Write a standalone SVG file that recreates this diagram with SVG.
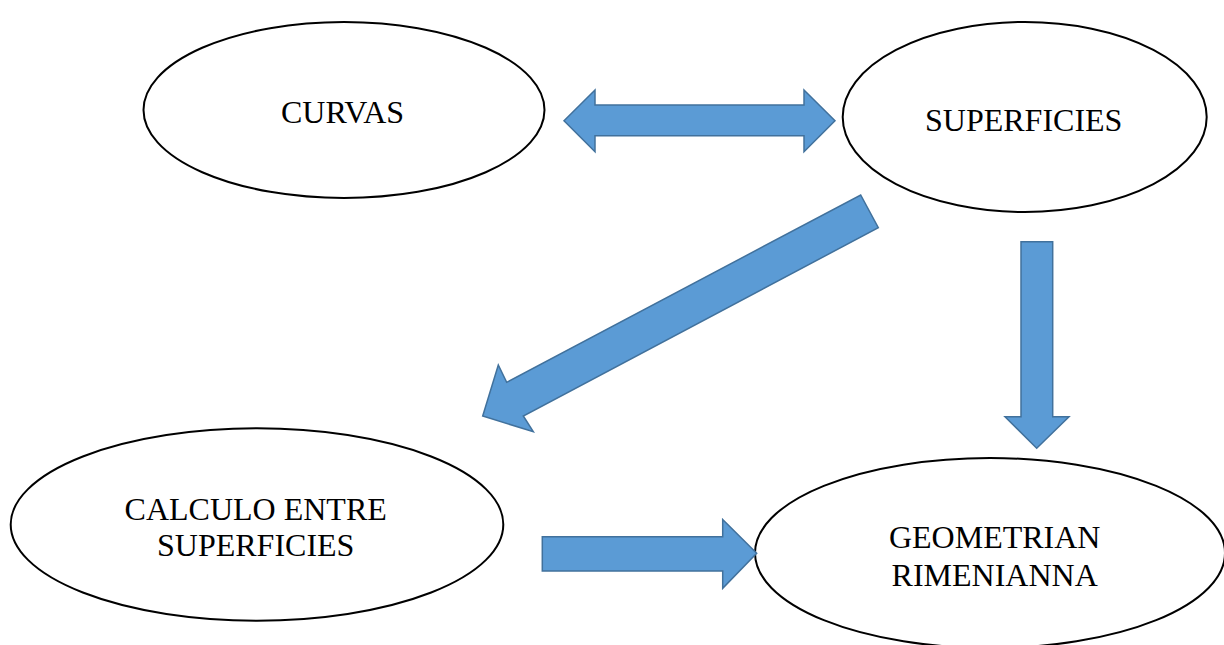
<svg xmlns="http://www.w3.org/2000/svg" width="1224" height="645" viewBox="0 0 1224 645">
<style>
.node{fill:#fff;stroke:#000;stroke-width:2}
.lbl{font-family:"Liberation Serif","Times New Roman",serif;font-size:32px;fill:#000;text-anchor:middle}
.arr{fill:#5B9BD5;stroke:#41719C;stroke-width:1.5;stroke-linejoin:miter}
</style>
<rect width="1224" height="645" fill="#fff"/>
<g id="curvas">
<ellipse class="node" cx="344" cy="110" rx="200.5" ry="88"/>
<text class="lbl" x="342.5" y="123">CURVAS</text>
</g>
<g id="superficies">
<ellipse class="node" cx="1024.7" cy="117" rx="182" ry="95"/>
<text class="lbl" x="1023.7" y="131">SUPERFICIES</text>
</g>
<g id="calculo">
<ellipse class="node" cx="257" cy="524.5" rx="246.3" ry="96.2"/>
<text class="lbl" x="255.7" y="520">CALCULO ENTRE</text>
<text class="lbl" x="255.7" y="556">SUPERFICIES</text>
</g>
<g id="geometrian">
<ellipse class="node" cx="990" cy="553" rx="235" ry="95"/>
<text class="lbl" x="994.7" y="548">GEOMETRIAN</text>
<text class="lbl" x="994.7" y="586">RIMENIANNA</text>
</g>
<g id="connectors">
<polygon class="arr" points="564,120.7 595,90 595,105 804,105 804,90 835,120.7 804,151.7 804,135.7 595,135.7 595,151.7"/>
<polygon class="arr" points="860.7,195 878.3,227.7 523.3,416 533.3,431.7 482.7,416 498.3,365 506.7,382.3"/>
<polygon class="arr" points="1021,241.7 1052.7,241.7 1052.7,416.7 1069,416.7 1036.7,448.3 1005,416.7 1021,416.7"/>
<polygon class="arr" points="542.3,536.7 722.7,536.7 722.7,519.5 756.7,553.3 722.7,588.3 722.7,571 542.3,571"/>
</g>
</svg>
